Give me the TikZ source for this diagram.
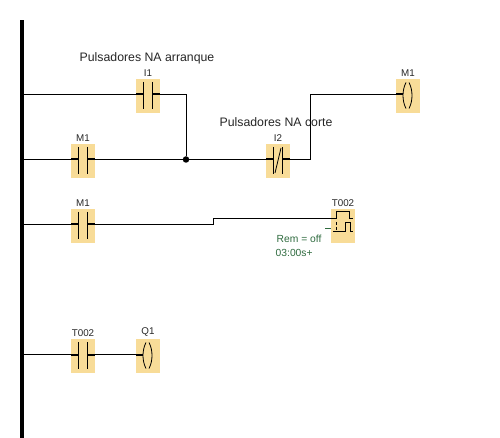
\documentclass[tikz,border=0pt]{standalone}
\usepackage{fontspec}
\setmainfont{Liberation Sans}
\usepackage{xcolor}
\usepackage{tikz}
\usetikzlibrary{calc}
\usetikzlibrary{positioning}
\definecolor{blockfill}{HTML}{F8DC98}
\definecolor{remgreen}{HTML}{2F6B3F}
\tikzset{
  mywire/.style={
    draw=black,
    line width=1pt,
  },
  myblock/.style={
    shape=rectangle,
    fill=blockfill,
    inner sep=0pt,
    minimum width=24pt,
    minimum height=34pt,
  },
  mynocontact/.style={
    myblock,
    path picture={
      \begin{scope}[shift={(path picture bounding box.center)}]
        \draw [line width=2pt] (-12,-1.5) -- (-4.5,-1.5);
        \draw [line width=2pt] (4,-1.5) -- (12,-1.5);
        \draw [line width=0.9pt] (-4.5,-14) -- (-4.5,13);
        \draw [line width=0.9pt] (4,-14) -- (4,13);
      \end{scope}
    },
  },
  mynccontact/.style={
    myblock,
    path picture={
      \begin{scope}[shift={(path picture bounding box.center)}]
        \draw [line width=2pt] (-12,-1.5) -- (-4.5,-1.5);
        \draw [line width=2pt] (4.5,-1.5) -- (12,-1.5);
        \draw [line width=0.9pt] (-4.5,-14) -- (-4.5,13);
        \draw [line width=0.9pt] (4.5,-14) -- (4.5,13);
        \draw [line width=0.8pt] (-3,12) -- (3,-13);
      \end{scope}
    },
  },
  mycoil/.style={
    myblock,
    path picture={
      \begin{scope}[shift={(path picture bounding box.center)}]
        \draw [line width=2pt] (-12,-1.5) -- (-5,-1.5);
        \draw [line width=0.8pt] (-2,-13.5) .. controls (-6,-6) and (-6,5) .. (-2,12.5);
        \draw [line width=0.8pt] (1,-13.5) .. controls (5,-6) and (5,5) .. (1,12.5);
      \end{scope}
    },
  },
  mytimer/.style={
    myblock,
    path picture={
      \begin{scope}[shift={(path picture bounding box.center)}]
        \draw [line width=1pt] (-12,-7) -- (-7,-7) -- (-7,-14) -- (6,-14) -- (6,-7) -- (10,-7);
        \draw [line width=1pt] (-10,6) -- (2,6) -- (2,-3) -- (7,-3) -- (7,6) -- (10,6);
        \draw [line width=0.9pt, dash pattern=on 3pt off 2pt] (-6.5,-4) -- (-6.5,5);
      \end{scope}
    },
  },
  mydot/.style={
    shape=circle,
    fill=black,
    inner sep=0pt,
    minimum size=6.5pt,
  },
  myrail/.style={
    shape=rectangle,
    fill=black,
    inner sep=0pt,
    minimum width=4pt,
    minimum height=418pt,
  },
  myname/.style={
    font=\fontsize{9.8}{11}\selectfont,
    text=black!85,
    inner sep=0pt,
  },
  mytitle/.style={
    font=\fontsize{12.3}{14}\selectfont,
    text=black!85,
    inner sep=0pt,
  },
  myparam/.style={
    font=\fontsize{10.3}{12}\selectfont,
    text=remgreen,
    inner sep=0pt,
    anchor=west,
  },
}

\begin{document}
\begin{tikzpicture}[x=1pt,y=-1pt]
    \useasboundingbox (0,0) rectangle (500,438);

    \node [myrail] (rail) at (22,229) {};

    \node [mynocontact] (I1) at (148,96) {};
    \node [myname, above=2.5pt of I1] (I1name) {I1};
    \node [mytitle] (startText) at (147,58) {Pulsadores NA arranque};

    \node [mynocontact] (M1a) at (83,161) {};
    \node [myname, above=2.5pt of M1a] (M1aname) {M1};
    \node [mynccontact] (I2) at (278,161) {};
    \node [myname, above=2.5pt of I2] (I2name) {I2};
    \node [mytitle] (stopText) at (276,122.5) {Pulsadores NA corte};
    \node [mycoil] (M1coil) at (408,96) {};
    \node [myname, above=2.5pt of M1coil] (M1coilname) {M1};
    \node [mydot] (J) at (186,159.5) {};

    \node [mynocontact] (M1b) at (83,226) {};
    \node [myname, above=2.5pt of M1b] (M1bname) {M1};
    \node [mytimer] (T002) at (343,226) {};
    \node [myname, above=2.5pt of T002] (T002name) {T002};
    \node [myparam] (rem) at (276.5,238.5) {Rem = off};
    \node [myparam] (time) at (275.5,252.5) {03:00s+};
    \coordinate (jogA) at (213,224.5);
    \coordinate (jogB) at (213,219);
    \coordinate (remStub) at (325,229);

    \node [mynocontact] (T002c) at (83,356) {};
    \node [myname, above=2.5pt of T002c] (T002cname) {T002};
    \node [mycoil] (Q1) at (148,356) {};
    \node [myname, above=2.5pt of Q1] (Q1name) {Q1};

    % first rung
    \draw [mywire] (rail.center |- I1.west) ++(0,-1.5) -- ([yshift=1.5pt]I1.west);
    \draw [mywire] ([yshift=1.5pt]I1.east) -| (J);

    % second rung
    \draw [mywire] (rail.center |- J) -- ([yshift=1.5pt]M1a.west);
    \draw [mywire] ([yshift=1.5pt]M1a.east) -- (J);
    \draw [mywire] (J) -- ([yshift=1.5pt]I2.west);
    \draw [mywire] ([yshift=1.5pt]I2.east) -- (310,159.5) |- ([yshift=1.5pt]M1coil.west);

    % third rung
    \draw [mywire] (rail.center |- jogA) -- ([yshift=1.5pt]M1b.west);
    \draw [mywire] ([yshift=1.5pt]M1b.east) -- (jogA) -- (jogB) -- (jogB -| T002.west);
    \draw [remgreen, line width=1pt] (remStub) -- (remStub -| T002.west);

    % last rung
    \draw [mywire] (rail.center |- T002c.west) ++(0,-1.5) -- ([yshift=1.5pt]T002c.west);
    \draw [mywire] ([yshift=1.5pt]T002c.east) -- ([yshift=1.5pt]Q1.west);
\end{tikzpicture}
\end{document}
